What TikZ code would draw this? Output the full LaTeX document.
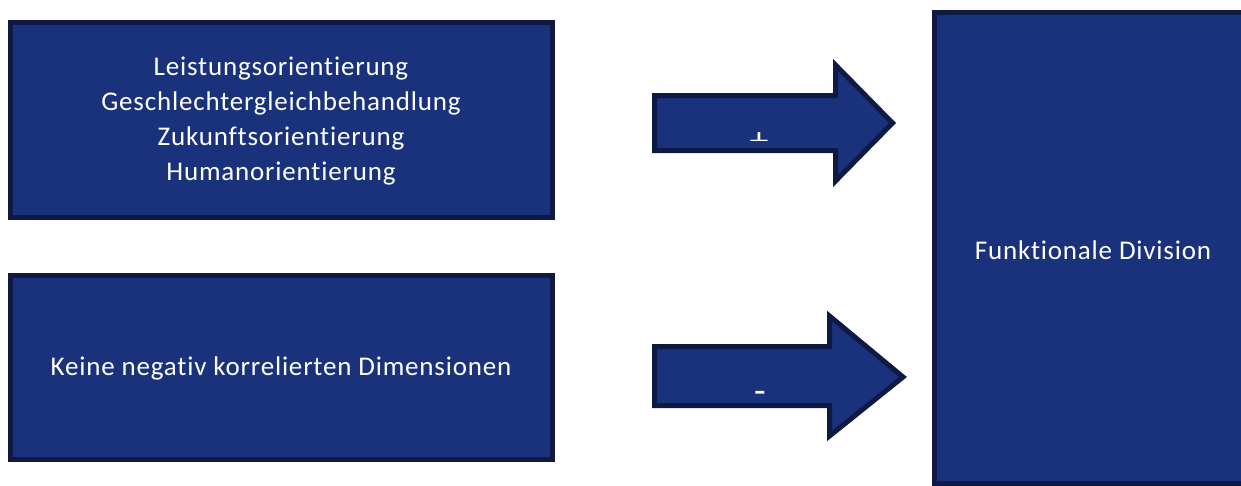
\documentclass[tikz,border=0pt]{standalone}
\usepackage{fontspec}
\setmainfont[Ligatures=CommonOff,LetterSpace=3]{Carlito}
\definecolor{boxfill}{RGB}{26,50,123}
\definecolor{boxline}{RGB}{14,26,68}
\begin{document}
\begin{tikzpicture}[x=1pt,y=-1pt,
  block/.style={draw=boxline,fill=boxfill,line width=5pt,line join=miter},
  label/.style={text=white,font=\fontsize{27}{35}\selectfont,align=center,inner sep=0pt},
  sign/.style={label,font=\fontsize{38}{38}\selectfont}]
\useasboundingbox (0,0) rectangle (1241,485);
\clip (0,0) rectangle (1241,485);

% left boxes
\draw[block] (10.5,22.5) rectangle (552.5,217.5);
\node[label] (pos) at (281,121) {Leistungsorientierung\\Geschlechtergleichbehandlung\\Zukunftsorientierung\\Humanorientierung};

\draw[block] (10.5,275.5) rectangle (552.5,459.5);
\node[label] (neg) at (281,368) {Keine negativ korrelierten Dimensionen};

% right box, running past the page edge
\draw[block] (934.5,12.5) rectangle (1250,483);
\node[label] (div) at (1093,250) {Funktionale Division};

% block arrows
\draw[block] (654.5,95.5) -- (835.5,95.5) -- (835.5,65) -- (892.5,123) -- (835.5,181) -- (835.5,150.5) -- (654.5,150.5) -- cycle;
\begin{scope}
  \clip (730,110) rectangle (790,140);
  \node[sign] (plus) at (759,143) {+};
\end{scope}

\draw[block] (654.5,346.5) -- (829.5,346.5) -- (829.5,316) -- (903,377) -- (829.5,436) -- (829.5,405.5) -- (654.5,405.5) -- cycle;
\node[sign] (minus) at (760,397) {-};
\end{tikzpicture}
\end{document}
